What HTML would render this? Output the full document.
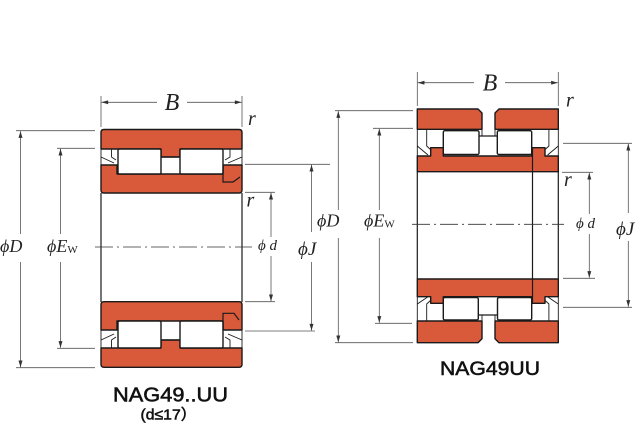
<!DOCTYPE html>
<html><head><meta charset="utf-8"><style>
html,body{margin:0;padding:0;background:#fff;}
svg{display:block;}
.red{fill:#d95a3a;stroke:#1a1a1a;stroke-width:1.4;stroke-linejoin:round;}
.rol{fill:#fff;stroke:#1a1a1a;stroke-width:1.4;}
.ln{stroke:#1a1a1a;stroke-width:1.2;fill:none;}
.thin{stroke:#1a1a1a;stroke-width:0.9;fill:none;}
.dim{stroke:#555;stroke-width:0.8;fill:none;}
.ctr{stroke:#333;stroke-width:0.8;fill:none;stroke-dasharray:18 4 2 4;}
.lab{font-family:"Liberation Serif","DejaVu Serif",serif;font-style:italic;fill:#222;}
.sans{font-family:"Liberation Sans","Noto Sans CJK JP",sans-serif;fill:#111;stroke:#111;stroke-width:0.55;}
</style></head><body>
<svg width="640" height="440" viewBox="0 0 640 440" xmlns="http://www.w3.org/2000/svg">
<defs>
<marker id="a" viewBox="0 0 10 6" refX="10" refY="3" markerWidth="7" markerHeight="4" orient="auto-start-reverse" markerUnits="userSpaceOnUse">
<path d="M0,0 L10,3 L0,6 Z" fill="#333"/>
</marker>
</defs>

<!-- ============ LEFT BEARING ============ -->
<path class="red" d="M101,132.5 Q101,129.5 104,129.5 L239,129.5 Q242,129.5 242,132.5 L242,149 L180,149 L180,157 L161,157 L161,149 L101,149 Z"/>
<path class="red" d="M101,165 L117,165 L117,174 L223,174 L223,165 L242,165 L242,190 Q242,193 239,193 L104,193 Q101,193 101,190 Z"/>
<rect class="rol" x="118" y="149" width="43" height="25" rx="1.5"/>
<rect class="rol" x="180" y="149" width="43" height="25" rx="1.5"/>
<line class="ln" x1="161" y1="157" x2="180" y2="157"/>
<polyline class="thin" points="101,149 101,165"/>
<polyline class="thin" points="111.5,149 111.5,157 116,160"/>
<polyline class="thin" points="101,157 114,163"/>
<polyline class="thin" points="230,149 230,157 225,160"/>
<polyline class="thin" points="242,157 228,163"/>
<line class="thin" x1="242" y1="149" x2="242" y2="165"/>
<polyline class="ln" points="223,166 223,182 233,182 240,177"/>

<line class="ln" x1="101" y1="193" x2="101" y2="302"/>
<line class="ln" x1="242" y1="193" x2="242" y2="302"/>

<path class="red" d="M101,304.7 Q101,301.7 104,301.7 L239,301.7 Q242,301.7 242,304.7 L242,330 L223,330 L223,321 L117,321 L117,330 L101,330 Z"/>
<path class="red" d="M101,348 L161,348 L161,340 L180,340 L180,348 L242,348 L242,364.3 Q242,367.3 239,367.3 L104,367.3 Q101,367.3 101,364.3 Z"/>
<rect class="rol" x="118" y="321" width="43" height="27" rx="1.5"/>
<rect class="rol" x="180" y="321" width="43" height="27" rx="1.5"/>
<line class="ln" x1="161" y1="340" x2="180" y2="340"/>
<polyline class="ln" points="223,330 223,313.3 234,313.3 239,320"/>
<line class="thin" x1="101" y1="330" x2="101" y2="348"/>
<polyline class="thin" points="111.5,348 111.5,340 116,337"/>
<polyline class="thin" points="101,340 114,334"/>
<polyline class="thin" points="230,348 230,340 225,337"/>
<polyline class="thin" points="242,340 228,334"/>
<line class="thin" x1="242" y1="330" x2="242" y2="348"/>

<line class="ctr" x1="95" y1="247" x2="252" y2="247"/>

<line class="dim" x1="101" y1="96" x2="101" y2="127"/>
<line class="dim" x1="242" y1="96" x2="242" y2="127"/>
<line class="dim" x1="157" y1="102.3" x2="101.5" y2="102.3" marker-end="url(#a)"/>
<line class="dim" x1="187" y1="102.3" x2="241.5" y2="102.3" marker-end="url(#a)"/>
<text class="lab" x="172" y="110" font-size="24" text-anchor="middle">B</text>
<text class="lab" x="248" y="125" font-size="20">r</text>
<text class="lab" x="246.5" y="206.5" font-size="20">r</text>

<line class="dim" x1="16" y1="130.7" x2="95" y2="130.7"/>
<line class="dim" x1="16" y1="367.7" x2="95" y2="367.7"/>
<line class="dim" x1="20.5" y1="234" x2="20.5" y2="131.2" marker-end="url(#a)"/>
<line class="dim" x1="20.5" y1="262" x2="20.5" y2="367.2" marker-end="url(#a)"/>
<text class="lab" x="0" y="252" font-size="18">ϕD</text>
<line class="dim" x1="57" y1="148.3" x2="95" y2="148.3"/>
<line class="dim" x1="57" y1="348.3" x2="95" y2="348.3"/>
<line class="dim" x1="60.5" y1="234" x2="60.5" y2="148.8" marker-end="url(#a)"/>
<line class="dim" x1="60.5" y1="262" x2="60.5" y2="347.8" marker-end="url(#a)"/>
<text class="lab" x="47" y="252" font-size="18">ϕE<tspan font-size="11" font-style="normal" dy="1">W</tspan></text>
<line class="dim" x1="245" y1="192.3" x2="275" y2="192.3"/>
<line class="dim" x1="245" y1="301.7" x2="275" y2="301.7"/>
<line class="dim" x1="271" y1="237" x2="271" y2="192.8" marker-end="url(#a)"/>
<line class="dim" x1="271" y1="256" x2="271" y2="301.2" marker-end="url(#a)"/>
<text class="lab" x="258" y="250" font-size="15">ϕ d</text>
<line class="dim" x1="245" y1="164.3" x2="330" y2="164.3"/>
<line class="dim" x1="245" y1="331" x2="315" y2="331"/>
<line class="dim" x1="311.5" y1="232" x2="311.5" y2="164.8" marker-end="url(#a)"/>
<line class="dim" x1="311.5" y1="262" x2="311.5" y2="330.5" marker-end="url(#a)"/>
<text class="lab" x="298" y="255" font-size="19">ϕJ</text>

<text class="sans" x="113" y="401.7" font-size="20" textLength="115" lengthAdjust="spacingAndGlyphs">NAG49..UU</text>
<text class="sans" x="140.5" y="419.5" font-size="15" textLength="56" lengthAdjust="spacingAndGlyphs">(d≤17）</text>

<!-- ============ RIGHT BEARING ============ -->
<path class="red" d="M417.3,109 L478,109 L482,113 L482,129.3 L417.3,129.3 Z"/>
<path class="red" d="M495,113 L499,109 L558.3,109 L558.3,129.3 L495,129.3 Z"/>
<line class="thin" x1="482" y1="129.3" x2="482" y2="136"/>
<line class="thin" x1="495" y1="129.3" x2="495" y2="136"/>
<line class="ln" x1="478" y1="136" x2="498" y2="136"/>
<path class="red" d="M417.3,156 L430.7,156 L430.7,147.7 L443.3,147.7 L443.3,156 L531.7,156 L531.7,147.7 L545,147.7 L545,156 L558.3,156 L558.3,171.7 L417.3,171.7 Z"/>
<rect class="rol" x="443.3" y="130.7" width="35.7" height="23.8" rx="1.5"/>
<rect class="rol" x="497.3" y="130.7" width="34.4" height="23.8" rx="1.5"/>
<line class="thin" x1="417.3" y1="129.3" x2="417.3" y2="156"/>
<line class="thin" x1="558.3" y1="129.3" x2="558.3" y2="156"/>
<polyline class="thin" points="426.7,129.3 426.7,146 431,150"/>
<polyline class="thin" points="417.3,146 428,155"/>
<polyline class="thin" points="548.9,129.3 548.9,146 544.6,150"/>
<polyline class="thin" points="558.3,146 547.6,155"/>

<line class="ln" x1="417.3" y1="171.7" x2="417.3" y2="279"/>
<line class="ln" x1="558.3" y1="171.7" x2="558.3" y2="279"/>
<line class="ln" x1="532.5" y1="148" x2="532.5" y2="303"/>

<path class="red" d="M417.3,279 L558.3,279 L558.3,296.7 L545,296.7 L545,303.3 L531.7,303.3 L531.7,296.7 L443.3,296.7 L443.3,303.3 L430.7,303.3 L430.7,296.7 L417.3,296.7 Z"/>
<line class="ln" x1="532.5" y1="279" x2="532.5" y2="303.3"/>
<rect class="rol" x="443.3" y="297.5" width="35" height="22.5" rx="1.5"/>
<rect class="rol" x="497.5" y="297.5" width="34.2" height="22.5" rx="1.5"/>
<path class="red" d="M417.3,321 L482,321 L482,338.7 L478,342.7 L417.3,342.7 Z"/>
<path class="red" d="M495,321 L558.3,321 L558.3,342.7 L499,342.7 L495,338.7 Z"/>
<line class="thin" x1="482" y1="315" x2="482" y2="321"/>
<line class="thin" x1="495" y1="315" x2="495" y2="321"/>
<line class="ln" x1="478" y1="315" x2="498" y2="315"/>
<line class="thin" x1="417.3" y1="296.7" x2="417.3" y2="321"/>
<line class="thin" x1="558.3" y1="296.7" x2="558.3" y2="321"/>
<polyline class="thin" points="426.7,321 426.7,304 431,300"/>
<polyline class="thin" points="417.3,304 428,296.7"/>
<polyline class="thin" points="548.9,321 548.9,304 544.6,300"/>
<polyline class="thin" points="558.3,304 547.6,296.7"/>

<line class="ctr" x1="412" y1="224.3" x2="564" y2="224.3"/>

<line class="dim" x1="417.3" y1="72" x2="417.3" y2="106"/>
<line class="dim" x1="558.3" y1="72" x2="558.3" y2="106"/>
<line class="dim" x1="474" y1="82.7" x2="417.8" y2="82.7" marker-end="url(#a)"/>
<line class="dim" x1="505" y1="82.7" x2="557.8" y2="82.7" marker-end="url(#a)"/>
<text class="lab" x="490" y="90.5" font-size="24" text-anchor="middle">B</text>
<text class="lab" x="566" y="106.5" font-size="20">r</text>
<text class="lab" x="564" y="186" font-size="20">r</text>

<line class="dim" x1="335" y1="110.7" x2="413" y2="110.7"/>
<line class="dim" x1="335" y1="342.7" x2="413" y2="342.7"/>
<line class="dim" x1="338.3" y1="210" x2="338.3" y2="111.2" marker-end="url(#a)"/>
<line class="dim" x1="338.3" y1="238" x2="338.3" y2="342.2" marker-end="url(#a)"/>
<text class="lab" x="317" y="226.7" font-size="18">ϕD</text>
<line class="dim" x1="373" y1="128.3" x2="413" y2="128.3"/>
<line class="dim" x1="375" y1="323.3" x2="412" y2="323.3"/>
<line class="dim" x1="379.3" y1="210" x2="379.3" y2="128.8" marker-end="url(#a)"/>
<line class="dim" x1="379.3" y1="238" x2="379.3" y2="322.8" marker-end="url(#a)"/>
<text class="lab" x="364" y="226.7" font-size="18">ϕE<tspan font-size="11" font-style="normal" dy="1">W</tspan></text>
<line class="dim" x1="562" y1="172.3" x2="593" y2="172.3"/>
<line class="dim" x1="563" y1="278.3" x2="595" y2="278.3"/>
<line class="dim" x1="589.3" y1="214" x2="589.3" y2="172.8" marker-end="url(#a)"/>
<line class="dim" x1="589.3" y1="234" x2="589.3" y2="277.8" marker-end="url(#a)"/>
<text class="lab" x="576" y="228" font-size="15">ϕ d</text>
<line class="dim" x1="563" y1="143.3" x2="632" y2="143.3"/>
<line class="dim" x1="563" y1="307.3" x2="632" y2="307.3"/>
<line class="dim" x1="628.3" y1="213" x2="628.3" y2="143.8" marker-end="url(#a)"/>
<line class="dim" x1="628.3" y1="241" x2="628.3" y2="306.8" marker-end="url(#a)"/>
<text class="lab" x="616" y="235" font-size="19">ϕJ</text>

<text class="sans" x="440" y="375" font-size="19.5" textLength="100" lengthAdjust="spacingAndGlyphs">NAG49UU</text>
</svg>
</body></html>
